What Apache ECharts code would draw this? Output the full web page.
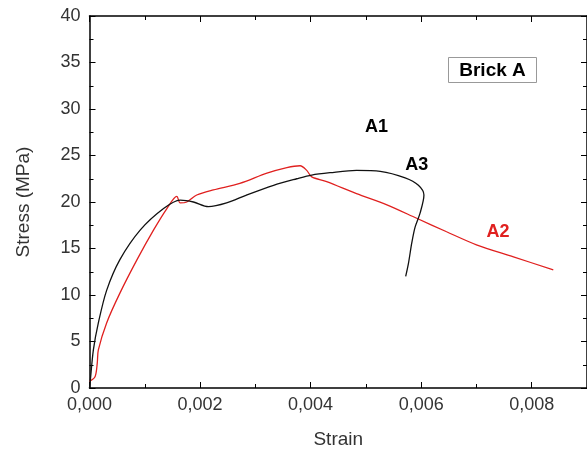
<!DOCTYPE html>
<html><head><meta charset="utf-8">
<script src="https://cdn.jsdelivr.net/npm/echarts@6/dist/echarts.min.js"></script>
<style>html,body{margin:0;padding:0;background:#fff}#c{width:587px;height:451px}</style>
</head><body><div id="c"></div>
<script>
const xTicks = [0, 0.002, 0.004, 0.006, 0.008];
const yTicks = [0, 5, 10, 15, 20, 25, 30, 35, 40];
const blackStrain = [0, 0.00001, 0.00007, 0.00016, 0.00031, 0.00055, 0.00092, 0.00134, 0.00164, 0.00188, 0.00215, 0.00248, 0.00284, 0.00333, 0.00375, 0.00402, 0.00435, 0.00483, 0.00526, 0.00571, 0.00595, 0.00605, 0.00598, 0.00589, 0.00583, 0.00577, 0.00572];
const blackStress = [0, 0.5, 4.1, 7.0, 10.5, 13.8, 17.0, 19.3, 20.2, 20.0, 19.5, 19.9, 20.75, 21.8, 22.5, 22.9, 23.15, 23.4, 23.3, 22.6, 21.8, 20.75, 18.8, 17.3, 15.6, 13.4, 12.0];
const redStrain = [0, 0.0001, 0.00014, 0.00016, 0.00031, 0.00055, 0.00086, 0.00116, 0.0014, 0.00158, 0.00164, 0.00176, 0.00194, 0.00224, 0.00272, 0.00321, 0.00357, 0.00381, 0.00393, 0.00402, 0.00429, 0.00483, 0.00538, 0.00592, 0.00646, 0.007, 0.00767, 0.00839];
const redStress = [0.7, 1.2, 2.65, 4.1, 7.0, 10.2, 13.8, 17.0, 19.3, 20.6, 19.9, 20.0, 20.75, 21.3, 22.0, 23.1, 23.7, 23.9, 23.4, 22.7, 22.2, 20.9, 19.7, 18.25, 16.8, 15.4, 14.1, 12.7];
const labels = [
  {text: 'A1', x: 0.00519, y: 28.1, color: '#000'},
  {text: 'A3', x: 0.00592, y: 24.0, color: '#000'},
  {text: 'A2', x: 0.00739, y: 16.8, color: '#e0201f'}
];
const boxLabel = 'Brick A';

const chart = echarts.init(document.getElementById('c'));
const font = 'Liberation Sans, Arial, sans-serif';
const fmt = v => v.toFixed(3).replace('.', ',');
const axLine = {show: true, onZero: false, lineStyle: {color: '#000', width: 1.5}};
const tick = {show: true, inside: true, length: 6, lineStyle: {color: '#000', width: 1}};
const minor = {show: true, splitNumber: 2, length: 4, lineStyle: {color: '#000', width: 1}};
chart.setOption({
  animation: false,
  grid: {left: 89.5, right: 0, top: 16, bottom: 63, containLabel: false, outerBoundsMode: 'none'},
  xAxis: [{
    type: 'value', min: 0, max: 0.009, interval: 0.002, position: 'bottom',
    axisLine: axLine, axisTick: tick, minorTick: minor,
    splitLine: {show: false},
    axisLabel: {formatter: fmt, showMaxLabel: false, color: '#333', fontSize: 18, fontFamily: font, margin: 8},
    name: 'Strain', nameLocation: 'middle', nameGap: 42,
    nameTextStyle: {color: '#333', fontSize: 19, fontFamily: font}
  }, {
    type: 'value', min: 0, max: 0.009, interval: 0.002, position: 'top',
    axisLine: axLine, axisTick: tick, minorTick: minor,
    splitLine: {show: false}, axisLabel: {show: false}
  }],
  yAxis: [{
    type: 'value', min: 0, max: 40, interval: 5, position: 'left',
    axisLine: axLine, axisTick: tick, minorTick: minor,
    splitLine: {show: false},
    axisLabel: {color: '#333', fontSize: 18, fontFamily: font, margin: 9},
    name: 'Stress (MPa)', nameLocation: 'middle', nameGap: 56, nameRotate: 90,
    nameTextStyle: {color: '#333', fontSize: 19, fontFamily: font}
  }, {
    type: 'value', min: 0, max: 40, interval: 5, position: 'right',
    axisLine: axLine, axisTick: tick, minorTick: minor,
    splitLine: {show: false}, axisLabel: {show: false}
  }],
  series: [
    {type: 'line', name: 'black', data: blackStrain.map((x, i) => [x, blackStress[i]]),
     showSymbol: false, smooth: 0.3, lineStyle: {color: '#111', width: 1.3}, z: 3},
    {type: 'line', name: 'red', data: redStrain.map((x, i) => [x, redStress[i]]),
     showSymbol: false, smooth: 0.3, lineStyle: {color: '#e0201f', width: 1.3}, z: 2}
  ]
});
// annotations; curve labels placed through the chart's own scales
const curveLabels = labels.map(l => {
  const p = chart.convertToPixel({xAxisIndex: 0, yAxisIndex: 0}, [l.x, l.y]);
  return {type: 'text', x: p[0], y: p[1], z: 10,
    style: {text: l.text, align: 'center', verticalAlign: 'middle', fontSize: 18, fontWeight: 'bold', fontFamily: font, fill: l.color}};
});
chart.setOption({
  graphic: [{
    type: 'group', left: 448, top: 57, z: 10,
    children: [
      {type: 'rect', shape: {x: 0, y: 0, width: 88, height: 25}, style: {fill: '#fff', stroke: '#999', lineWidth: 1}},
      {type: 'text', style: {x: 44, y: 13, text: boxLabel, align: 'center', verticalAlign: 'middle', fontSize: 19, fontWeight: 'bold', fontFamily: font, fill: '#000'}}
    ]
  }].concat(curveLabels)
});
</script></body></html>
